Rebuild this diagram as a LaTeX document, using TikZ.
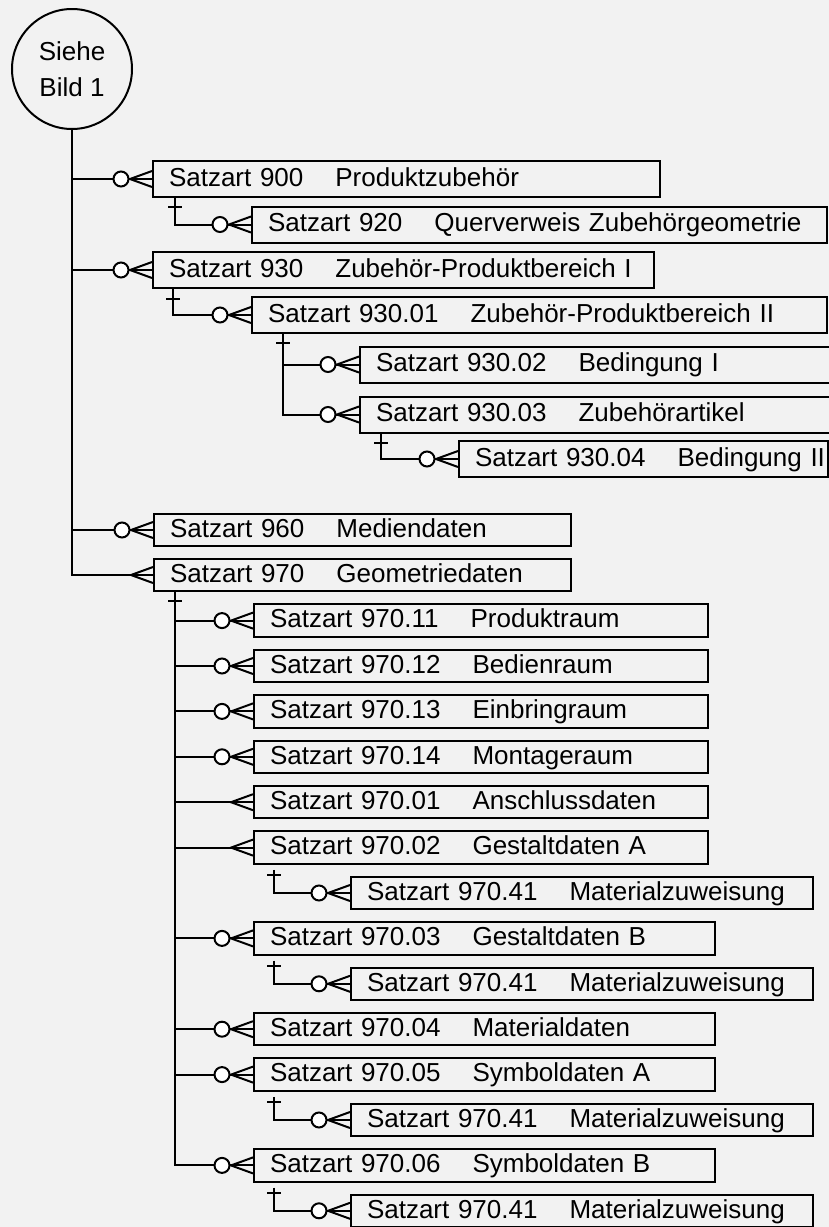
\documentclass[tikz,border=0pt]{standalone}
\usepackage{fontspec}
\setmainfont{Liberation Sans}
\definecolor{bg}{HTML}{F2F2F2}
\tikzset{
  conn/.style={line width=2pt, line join=miter},
  rec/.style={draw, line width=2pt, anchor=west, inner xsep=16pt, inner ysep=0pt,
    text width=#1, align=left, text height=19pt, text depth=4.4pt, minimum height=36pt},
  low/.style={minimum height=32.5pt},
}
\newcommand\rt[2]{\mbox{#1\hspace{32pt}#2}}
\newcommand\crow[1]{\draw[conn] ([yshift=8pt]#1.west) -- ([xshift=-22pt]#1.west) -- ([yshift=-8pt]#1.west);}
\newcommand\ring[1]{\draw[conn,fill=white] ([xshift=-31pt]#1.west) circle[radius=7.5pt];}
\newcommand\tick[2]{\draw[conn] ([xshift=-7pt,yshift=-#2pt]#1) -- ([xshift=7pt,yshift=-#2pt]#1);}
\begin{document}
\begin{tikzpicture}[x=1pt,y=-1pt,font=\fontsize{26}{36}\selectfont]
\fill[bg] (0,0) rectangle (829,1227);
\useasboundingbox (0,0) rectangle (829,1227);

\node[draw, circle, line width=2pt, minimum size=120pt, inner sep=0pt, align=center] (siehe) at (72,69) {Siehe\\Bild 1};

% upper boxes
\node[rec=475pt] (b900) at (152,179) {\rt{Satzart 900}{Produktzubehör}};
\node[rec=543pt] (b920) at (251,224.5) {\rt{Satzart 920}{Querverweis Zubehörgeometrie}};
\node[rec=469pt] (b930) at (152,270) {\rt{Satzart 930}{Zubehör-Produktbereich I}};
\node[rec=543pt] (b93001) at (251,315) {\rt{Satzart 930.01}{Zubehör-Produktbereich II}};
\node[rec=445pt] (b93002) at (359,364.5) {\rt{Satzart 930.02}{Bedingung I}};
\node[rec=445pt] (b93003) at (359,414.5) {\rt{Satzart 930.03}{Zubehörartikel}};
\node[rec=337pt] (b93004) at (458,459) {\rt{Satzart 930.04}{Bedingung II}};
\node[rec=385pt,low] (b960) at (153,530) {\rt{Satzart 960}{Mediendaten}};
\node[rec=385pt,low] (b970) at (153,575) {\rt{Satzart 970}{Geometriedaten}};

% lower boxes
\node[rec=422pt,low] (b97011) at (253,620.6) {\rt{Satzart 970.11}{Produktraum}};
\node[rec=422pt,low] (b97012) at (253,666.0) {\rt{Satzart 970.12}{Bedienraum}};
\node[rec=422pt,low] (b97013) at (253,711.4) {\rt{Satzart 970.13}{Einbringraum}};
\node[rec=422pt,low] (b97014) at (253,756.8) {\rt{Satzart 970.14}{Montageraum}};
\node[rec=422pt,low] (b97001) at (253,802.2) {\rt{Satzart 970.01}{Anschlussdaten}};
\node[rec=422pt,low] (b97002) at (253,847.6) {\rt{Satzart 970.02}{Gestaltdaten A}};
\node[rec=430pt,low] (m1) at (350,893.0) {\rt{Satzart 970.41}{Materialzuweisung}};
\node[rec=429pt,low] (b97003) at (253,938.4) {\rt{Satzart 970.03}{Gestaltdaten B}};
\node[rec=430pt,low] (m2) at (350,983.8) {\rt{Satzart 970.41}{Materialzuweisung}};
\node[rec=429pt,low] (b97004) at (253,1029.2) {\rt{Satzart 970.04}{Materialdaten}};
\node[rec=429pt,low] (b97005) at (253,1074.6) {\rt{Satzart 970.05}{Symboldaten A}};
\node[rec=430pt,low] (m3) at (350,1120.0) {\rt{Satzart 970.41}{Materialzuweisung}};
\node[rec=429pt,low] (b97006) at (253,1165.4) {\rt{Satzart 970.06}{Symboldaten B}};
\node[rec=430pt,low] (m4) at (350,1210.8) {\rt{Satzart 970.41}{Materialzuweisung}};

% trunk
\draw[conn] (siehe.south) |- (b970.west);
\foreach \b in {b900,b930,b960} {\draw[conn] (\b.west) -- (\b.west -| siehe.south);}

% junction coordinates
\coordinate (j900) at ([xshift=23pt]b900.south west);
\coordinate (j930) at ([xshift=21pt]b930.south west);
\coordinate (j93001) at ([xshift=32pt]b93001.south west);
\coordinate (j93003) at ([xshift=22pt]b93003.south west);
\coordinate (j970) at ([xshift=22pt]b970.south west);
\coordinate (j97002) at ([xshift=21pt,yshift=-5pt]b97002.south west);
\coordinate (j97003) at ([xshift=21pt,yshift=-5pt]b97003.south west);
\coordinate (j97005) at ([xshift=21pt,yshift=-5pt]b97005.south west);
\coordinate (j97006) at ([xshift=21pt,yshift=-5pt]b97006.south west);

\draw[conn] (j900) |- (b920.west);
\draw[conn] (j930) |- (b93001.west);
\draw[conn] (j93001) |- (b93003.west);
\draw[conn] (j93001 |- b93002.west) -- (b93002.west);
\draw[conn] (j93003) |- (b93004.west);
\draw[conn] (j970) |- (b97006.west);
\foreach \b in {b97011,b97012,b97013,b97014,b97001,b97002,b97003,b97004,b97005} {\draw[conn] (j970 |- \b.west) -- (\b.west);}
\draw[conn] (j97002) |- (m1.west);
\draw[conn] (j97003) |- (m2.west);
\draw[conn] (j97005) |- (m3.west);
\draw[conn] (j97006) |- (m4.west);

% ticks
\tick{j900}{9}
\tick{j930}{10}
\tick{j93001}{9}
\tick{j93003}{9}
\tick{j970}{9}
\tick{j97002}{5}
\tick{j97003}{5}
\tick{j97005}{5}
\tick{j97006}{5}

% crow's feet
\foreach \b in {b900,b920,b930,b93001,b93002,b93003,b93004,b960,b970,b97011,b97012,b97013,b97014,b97001,b97002,m1,b97003,m2,b97004,b97005,m3,b97006,m4} {\crow{\b}}
\foreach \b in {b900,b920,b930,b93001,b93002,b93003,b93004,b960,b97011,b97012,b97013,b97014,m1,b97003,m2,b97004,b97005,m3,b97006,m4} {\ring{\b}}
\end{tikzpicture}
\end{document}
